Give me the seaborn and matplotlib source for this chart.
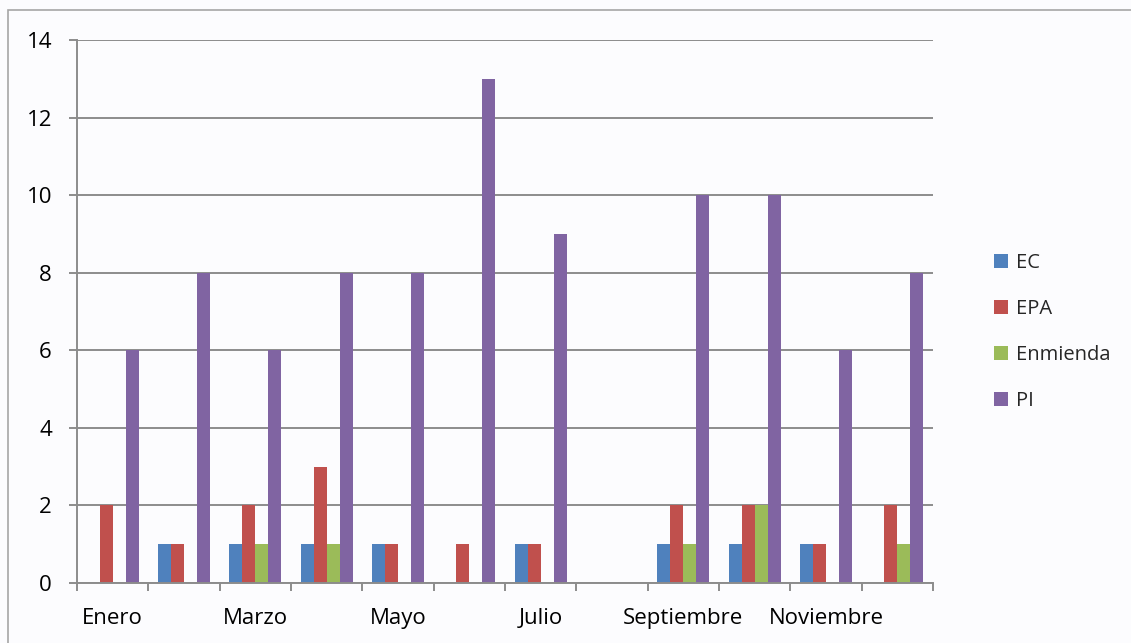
import matplotlib
matplotlib.use("Agg")
import matplotlib.pyplot as plt
import pandas as pd
import seaborn as sns
from matplotlib.patches import Patch, Rectangle

# Monthly counts per category
meses = ["Enero", "Febrero", "Marzo", "Abril", "Mayo", "Junio", "Julio",
         "Agosto", "Septiembre", "Octubre", "Noviembre", "Diciembre"]
ec = [0, 1, 1, 1, 1, 0, 1, 0, 1, 1, 1, 0]
epa = [2, 1, 2, 3, 1, 1, 1, 0, 2, 2, 1, 2]
enmienda = [0, 0, 1, 1, 0, 0, 0, 0, 1, 2, 0, 1]
pi = [6, 8, 6, 8, 8, 13, 9, 0, 10, 10, 6, 8]
series = ["EC", "EPA", "Enmienda", "PI"]
colores = ["#4F81BD", "#C0504D", "#9BBB59", "#8064A2"]
y_ticks = [0, 2, 4, 6, 8, 10, 12, 14]

df = pd.DataFrame({"Mes": meses, "EC": ec, "EPA": epa,
                   "Enmienda": enmienda, "PI": pi})
largo = df.melt(id_vars="Mes", value_vars=series,
                var_name="Serie", value_name="Valor")

sns.set_theme(style="white")
plt.rcParams["font.family"] = ["Open Sans", "DejaVu Sans"]

W, H = 1131, 643
bg = "#fcfcfe"
grid_c = "#8c8c8c"
fig = plt.figure(figsize=(W / 100, H / 100), dpi=100, facecolor=bg)
ax = fig.add_axes([77 / W, 60 / H, 856 / W, 543 / H], facecolor=bg)

sns.barplot(data=largo, x="Mes", y="Valor", hue="Serie", order=meses,
            hue_order=series, palette=colores, width=0.73, gap=0,
            linewidth=0, saturation=1, legend=False, ax=ax)

ax.set_ylim(0, 14)
ax.set_xlim(-0.5, len(meses) - 0.5)
ax.set_yticks(y_ticks)
ax.set_yticklabels([str(v) for v in y_ticks])
ax.yaxis.grid(True, color=grid_c, linewidth=1.4)
ax.set_axisbelow(True)
ax.set_xlabel("")
ax.set_ylabel("")

# category boundaries as tick marks, names at every other centre
ax.set_xticks([i - 0.5 for i in range(len(meses) + 1)])
ax.set_xticklabels([])
ax.set_xticks(list(range(0, len(meses), 2)), minor=True)
ax.set_xticklabels([meses[i] for i in range(0, len(meses), 2)], minor=True)
ax.tick_params(axis="x", which="major", direction="out", length=6,
               width=1.4, color=grid_c, bottom=True)
ax.tick_params(axis="x", which="minor", length=0, pad=18,
               labelsize=16, labelcolor="black")
ax.tick_params(axis="y", direction="out", length=6, width=1.4,
               color=grid_c, left=True, pad=12, labelsize=16,
               labelcolor="black")

for s in ["top", "right"]:
    ax.spines[s].set_visible(False)
for s in ["left", "bottom"]:
    ax.spines[s].set_color(grid_c)
    ax.spines[s].set_linewidth(1.4)

handles = [Patch(facecolor=c, edgecolor="none", label=s)
           for s, c in zip(series, colores)]
fig.legend(handles=handles, loc="center left",
           bbox_to_anchor=(994 / W, 1 - 332 / H), frameon=False,
           fontsize=14.5, handlelength=0.7, handleheight=0.7,
           handletextpad=0.4, labelspacing=1.3, borderpad=0,
           borderaxespad=0)

# outer chart frame
fig.patches.append(Rectangle((8 / W, -0.1), 2, 1 - 10 / H + 0.1,
                             transform=fig.transFigure, fill=False,
                             edgecolor="#a6a6a6", linewidth=1.2))

fig.savefig("out.png", dpi=100, facecolor=bg)
